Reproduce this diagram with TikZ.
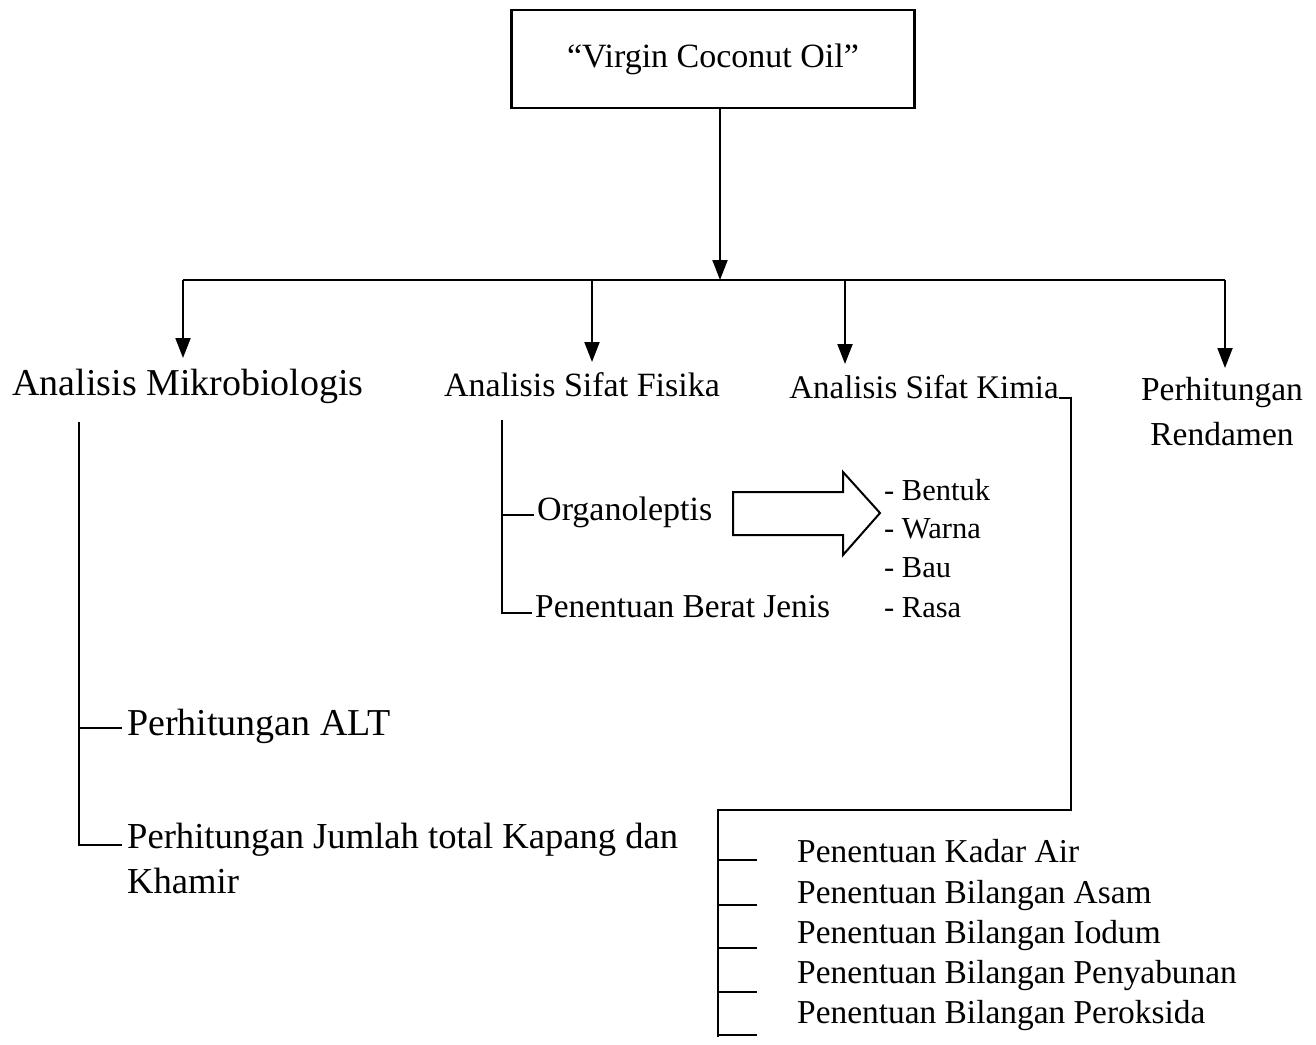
\documentclass[tikz,border=0pt]{standalone}
\usepackage{fontspec}
\setmainfont{Liberation Serif}
\usetikzlibrary{arrows.meta}
\begin{document}
\begin{tikzpicture}[x=1pt,y=-1pt,
  ln/.style={line width=2pt},
  arr/.style={line width=2pt,-{Triangle[length=20pt,width=15pt]}},
  lbl/.style={inner sep=0pt,anchor=base},
  lblw/.style={inner sep=0pt,anchor=base west},
  fbig/.style={font=\fontsize{38}{45}\selectfont},
  fmid/.style={font=\fontsize{34}{45}\selectfont},
  fsm/.style={font=\fontsize{30.5}{38}\selectfont}]
\useasboundingbox (0,0) rectangle (1316,1044);
% top box
\node[draw,line width=2.2pt,minimum width=403pt,minimum height=98pt,inner sep=0pt,fmid] (vco) at (713,59) {``Virgin Coconut Oil''};
% level-1 labels
\node[lbl,fbig] (mikro) at (188,395) {Analisis Mikrobiologis};
\node[lbl,fmid] (fisika) at (582,396) {Analisis Sifat Fisika};
\node[lbl,font=\fontsize{33}{45}\selectfont] (kimia) at (924,398) {Analisis Sifat Kimia};
\node[lbl,font=\fontsize{33.5}{45}\selectfont,align=center] (rend) at (1222,445) {Perhitungan\\Rendamen};
% bus and arrows
\coordinate (hub) at (720,280);
\coordinate (d1) at (183,280);
\coordinate (d2) at (592,280);
\coordinate (d3) at (845,280);
\coordinate (d4) at (1225,280);
\coordinate (t1) at (183,358);
\coordinate (t2) at (592,362);
\coordinate (t3) at (845,364);
\coordinate (t4) at (1225,368);
\draw[arr] (vco.south -| hub) -- (hub);
\draw[ln] (d1) -- (d4);
\draw[arr] (d1) -- (t1);
\draw[arr] (d2) -- (t2);
\draw[arr] (d3) -- (t3);
\draw[arr] (d4) -- (t4);
% Mikrobiologis branch
\node[lblw,fbig] (alt) at (127,735) {Perhitungan ALT};
\node[lblw,font=\fontsize{36.6}{45}\selectfont,align=left] (kapang) at (127,893) {Perhitungan Jumlah total Kapang dan\\Khamir};
\coordinate (m0) at (79,422);
\coordinate (m1) at (79,728);
\coordinate (m2) at (79,845);
\coordinate (m1e) at (122,728);
\coordinate (m2e) at (122,845);
\draw[ln] (m0) -- (m2) -- (m2e);
\draw[ln] (m1) -- (m1e);
% Fisika branch
\node[lblw,fmid] (organo) at (537,520) {Organoleptis};
\node[lblw,font=\fontsize{33.4}{45}\selectfont] (berat) at (535,617) {Penentuan Berat Jenis};
\coordinate (f0) at (502,420);
\coordinate (f1) at (502,515);
\coordinate (f2) at (502,613);
\coordinate (f1e) at (534,515);
\coordinate (f2e) at (532,613);
\draw[ln] (f0) -- (f2) -- (f2e);
\draw[ln] (f1) -- (f1e);
% block arrow
\draw[line width=2pt,line join=miter] (733,492) -- (843,492) -- (843,472) -- (880,513) -- (843,555) -- (843,535) -- (733,535) -- cycle;
\node[lblw,fsm] (b1) at (884,500) {- Bentuk};
\node[lblw,fsm] (b2) at (884,538) {- Warna};
\node[lblw,fsm] (b3) at (884,577) {- Bau};
\node[lblw,fsm] (b4) at (884,617) {- Rasa};
% Kimia branch
\coordinate (kv) at (718,810);
\coordinate (kb) at (718,1037);
\draw[ln] (kimia.base east) -- (1071,398) |- (kv) -- (kb);
\foreach \i/\y/\t in {1/862/Penentuan Kadar Air,2/903/Penentuan Bilangan Asam,3/943/Penentuan Bilangan Iodum,4/983/Penentuan Bilangan Penyabunan,5/1023/Penentuan Bilangan Peroksida}{
  \node[lblw,font=\fontsize{33.4}{45}\selectfont] (k\i) at (797,\y) {\t};
}
\foreach \i/\y in {1/860,2/905,3/948,4/992,5/1035}{
  \coordinate (ks\i) at (718,\y);
  \coordinate (ke\i) at (757,\y);
  \draw[ln] (ks\i) -- (ke\i);
}
\end{tikzpicture}
\end{document}
